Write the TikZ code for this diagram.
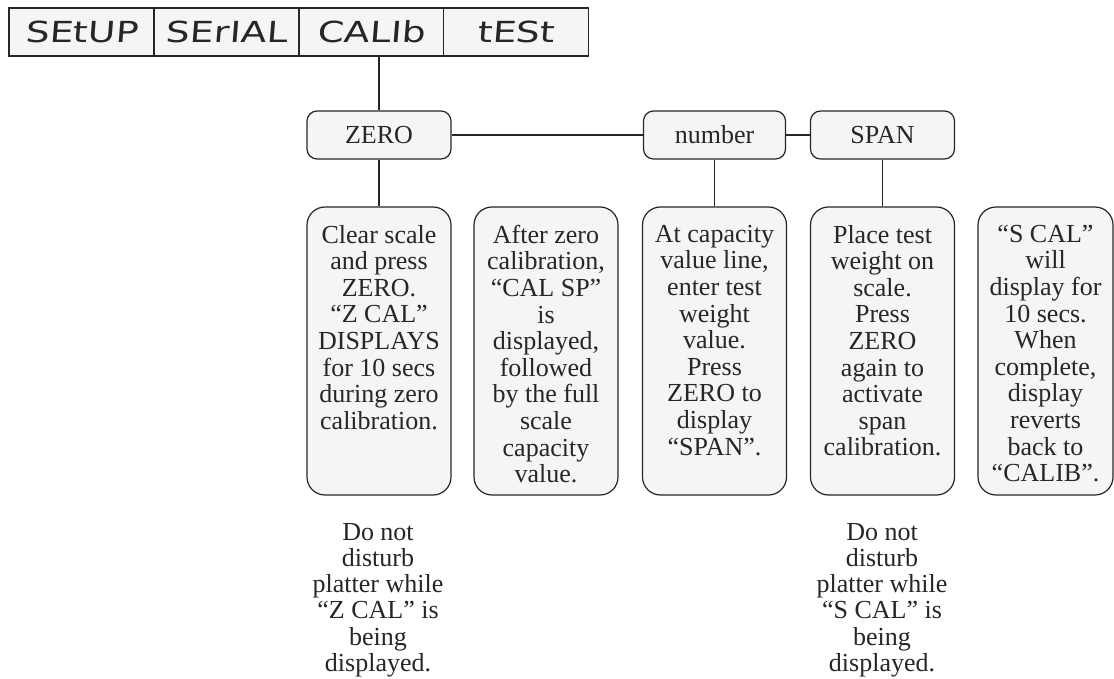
\documentclass[tikz,border=0pt]{standalone}
\usepackage{fontspec}
\setmainfont{Liberation Serif}
\newfontfamily\segfont[FakeStretch=1.3,FakeSlant=0.08]{DejaVu Sans}
\usetikzlibrary{positioning}

\begin{document}
\begin{tikzpicture}[x=1pt, y=-1pt, line width=1.2pt, color=black!85,
menu/.style={draw, fill=black!4, minimum width=145pt, minimum height=48pt, inner sep=0pt, font=\segfont\fontsize{29}{30}\selectfont},
key/.style={draw, rounded corners=10pt, fill=black!4, minimum width=#1, minimum height=48pt, inner sep=0pt, font=\fontsize{26}{26.6}\selectfont},
key/.default=144pt,
stepbox/.style={draw, rounded corners=18pt, fill=black!4, inner sep=0pt, font=\fontsize{26}{26.6}\selectfont,
  execute at begin node={\begin{minipage}[t][288pt][t]{#1}\centering\vspace*{18pt}},
  execute at end node={\end{minipage}}},
stepbox/.default=144pt,
note/.style={align=center, inner sep=0pt, font=\fontsize{26}{26.2}\selectfont}]
\useasboundingbox (0,0) rectangle (1114,679);

\node[menu] (setup) at (81.5,32) {SEtUP};
\node[menu] (serial) at (226.5,32) {SErIAL};
\node[menu] (calib) at (371.5,32) {CALIb};
\node[menu] (test) at (516,32) {tESt};

\node[key] (zero) at (379,135) {ZERO};
\node[key=142pt] (number) at (714.5,135) {number};
\node[key] (span) at (882.5,135) {SPAN};

\node[stepbox] (c1) at (379,351) {Clear scale\\and press\\ZERO.\\“Z CAL”\\DISPLAYS\\for 10 secs\\during zero\\calibration.};
\node[stepbox] (c2) at (546,351) {After zero\\calibration,\\“CAL SP”\\is\\displayed,\\followed\\by the full\\scale\\capacity\\value.};
\node[stepbox] (c3) at (714.5,351) {At capacity\\value line,\\enter test\\weight\\value.\\Press\\ZERO to\\display\\“SPAN”.};
\node[stepbox] (c4) at (882.5,351) {Place test\\weight on\\scale.\\Press\\ZERO\\again to\\activate\\span\\calibration.};
\node[stepbox=135pt] (c5) at (1045.5,351) {“S CAL”\\will\\display for\\10 secs.\\When\\complete,\\display\\reverts\\back to\\“CALIB”.};

\node[note] (n1) at (378,600) {Do not\\disturb\\platter while\\“Z CAL” is\\being\\displayed.};
\node[note] (n2) at (882,600) {Do not\\disturb\\platter while\\“S CAL” is\\being\\displayed.};

\draw (zero.north) -- (zero.north |- calib.south);
\draw (zero) -- (number);
\draw (number) -- (span);
\draw (zero) -- (c1);
\draw (number) -- (c3);
\draw (span) -- (c4);
\end{tikzpicture}
\end{document}
